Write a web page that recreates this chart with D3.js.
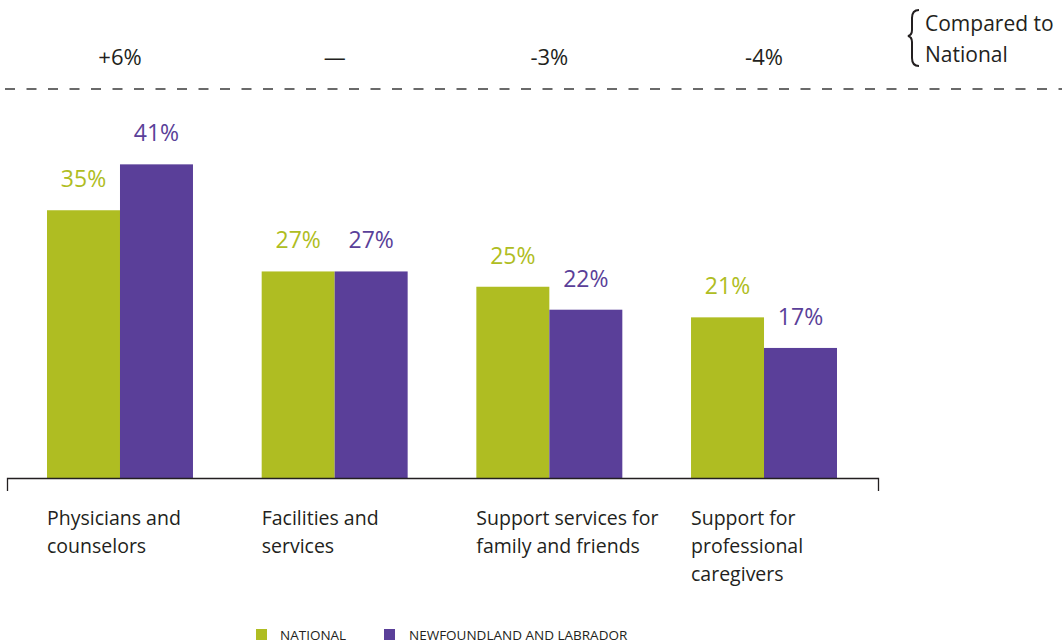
<!DOCTYPE html>
<html><head><meta charset="utf-8">
<script src="https://cdn.jsdelivr.net/npm/d3@7"></script>
<style>body{margin:0;background:#fff}svg{display:block}text{font-family:"Open Sans",sans-serif}</style>
</head><body><svg id="c" width="1062" height="644"></svg>
<script>
const categories = [["Physicians and","counselors"],["Facilities and","services"],["Support services for","family and friends"],["Support for","professional","caregivers"]];
const series = ["NATIONAL","NEWFOUNDLAND AND LABRADOR"];
const national = [35,27,25,21];
const nl = [41,27,22,17];
const diffs = ["+6%","—","-3%","-4%"];
const colors = ["#AFBD22","#5A3F99"];
const textColor = "#231F20";

const svg = d3.select("#c");
const base = 478;
const y = d3.scaleLinear().domain([0,41]).range([base,base-41*7.65]);
const x0 = d3.scaleBand().domain(d3.range(4)).range([47,837]).paddingInner(0.32).paddingOuter(0);
const x1 = d3.scaleBand().domain([0,1]).range([0,x0.bandwidth()]);

// dashed line
svg.append("line").attr("x1",5).attr("x2",1062).attr("y1",89).attr("y2",89)
  .attr("stroke","#3a3a3a").attr("stroke-width",1.5).attr("stroke-dasharray","10,11.5");

const vals = [national, nl];
categories.forEach((c,i)=>{
  const g = svg.append("g").attr("transform",`translate(${x0(i)},0)`);
  [0,1].forEach(s=>{
    const v = vals[s][i];
    g.append("rect").attr("x",x1(s)).attr("width",x1.bandwidth()).attr("y",y(v)).attr("height",base-y(v)).attr("fill",colors[s]);
    g.append("text").attr("x",x1(s)+x1.bandwidth()/2).attr("y",y(v)-23).attr("text-anchor","middle")
      .attr("font-size",23).attr("fill",colors[s]).text(v+"%");
  });
  g.append("text").attr("x",x0.bandwidth()/2).attr("y",65).attr("text-anchor","middle").attr("font-size",22).attr("fill",textColor).text(diffs[i]);
  const t = g.append("text").attr("x",0).attr("y",525).attr("font-size",19.5).attr("fill",textColor);
  c.forEach((l,k)=>t.append("tspan").attr("x",0).attr("dy",k?28:0).text(l));
});

// axis
svg.append("path").attr("d",`M7.5,491V${base+0.5}H878.5V491`).attr("fill","none").attr("stroke","#231F20").attr("stroke-width",1.3);

// compared to
svg.append("path").attr("d","M919,10 Q912,10 912,18 L912,30 Q912,35 908,36 Q912,37 912,42 L912,58 Q912,66 919,66")
  .attr("fill","none").attr("stroke",textColor).attr("stroke-width",2);
const ct = svg.append("text").attr("x",925).attr("y",31).attr("font-size",21).attr("fill",textColor);
ct.append("tspan").attr("x",925).text("Compared to");
ct.append("tspan").attr("x",925).attr("dy",31).text("National");

// legend
const leg = [[256,280],[384,409]];
series.forEach((s,i)=>{
  svg.append("rect").attr("x",leg[i][0]).attr("y",629).attr("width",11).attr("height",11).attr("fill",colors[i]);
  svg.append("text").attr("x",leg[i][1]).attr("y",640).attr("font-size",13.5).attr("fill",textColor).text(s);
});
</script></body></html>
